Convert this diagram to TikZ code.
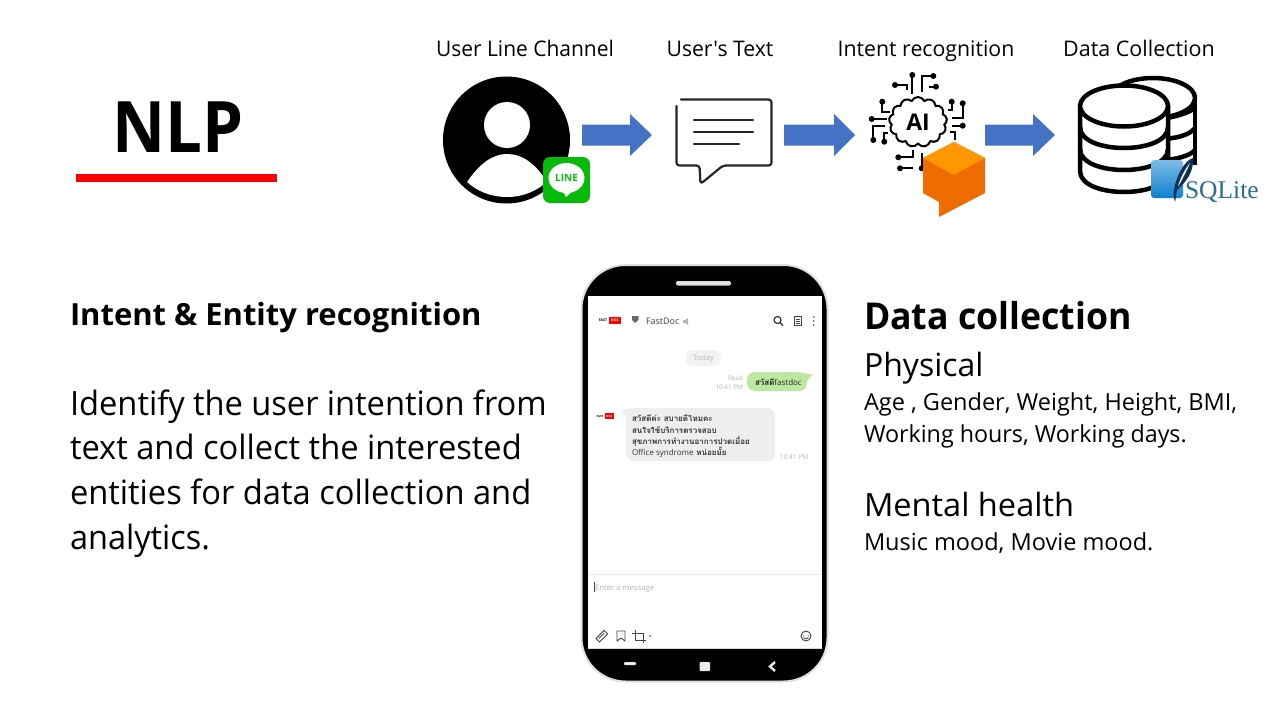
\documentclass[tikz,border=0pt]{standalone}
\usepackage{fontspec}
\setmainfont{Open Sans}
\newfontfamily\aposfont{Open Sans}
\newfontfamily\thaifont[Script=Thai]{Loma}
\newfontfamily\seriffont{Liberation Serif}
\usetikzlibrary{shapes.symbols}
\newcommand{\fsz}[1]{\fontsize{#1}{#1}\selectfont}
\newcommand{\xs}[2]{\scalebox{#1}[1]{#2}}
\definecolor{arrowblue}{HTML}{4472C4}
\definecolor{linegreen}{HTML}{06BA0A}
\definecolor{orangetop}{HTML}{FF9800}
\definecolor{orangeside}{HTML}{EF6C00}
\definecolor{chatgrey}{HTML}{EEEEEE}
\definecolor{chatgreen}{HTML}{BCE8A0}
\definecolor{faint}{HTML}{B5B5B5}
\definecolor{icon}{HTML}{444444}
\definecolor{sqltext}{HTML}{2B6E8C}
\definecolor{sqltop}{HTML}{7DBDE8}
\definecolor{sqlbot}{HTML}{0E7FCB}
\definecolor{feather}{HTML}{0B2F55}
\tikzset{
  txt/.style={anchor=base west,inner sep=0pt,outer sep=0pt,text=black},
  head/.style={anchor=base,inner sep=0pt,outer sep=0pt,text=black,font=\fsz{21.5}},
  blockarrow/.style={fill=arrowblue,draw=none},
  dbline/.style={draw=black,line width=4.5pt,fill=white,line join=round},
  dbarc/.style={draw=black,line width=4.5pt},
  msg/.style={draw=black!85,line width=2.2pt,line cap=round,line join=round},
  phoneicon/.style={draw=icon,line width=0.9pt,line join=round},
  trace/.style={line width=1.8pt},
  chattxt/.style={anchor=base west,inner sep=0pt,outer sep=0pt,text=black!80,font=\thaifont\bfseries\fsz{8}},
}
\newcommand{\barrow}[3]{\path[blockarrow] (#1,124.5) -- (#3,124.5) -- (#3,114) -- (#2,135) -- (#3,156) -- (#3,145.5) -- (#1,145.5) -- cycle;}
\begin{document}
\begin{tikzpicture}[x=1pt,y=-1pt]
\useasboundingbox (0,0) rectangle (1280,720);
\fill[white] (0,0) rectangle (1280,720);
% NLP
\node[txt,font=\fsz{71}\bfseries] (nlp) at (112,152) {\xs{0.92}{NLP}};
\fill[red] (76,174) rectangle (277,182);
% headers
\node[head] (h1) at (525,56) {\xs{0.975}{User Line Channel}};
\node[head] (h2) at (720,56) {\xs{0.985}{\aposfont User's Text}};
\node[head] (h3) at (926,56) {\xs{0.99}{Intent recognition}};
\node[head] (h4) at (1139,56) {Data Collection};
% person
\fill[black] (506.5,140) circle (63.5);
\fill[white] (507,125) circle (23);
\fill[white] (467,182) .. controls (480,163) and (493,154) .. (507,154) .. controls (522,154) and (535,163) .. (547,182) .. controls (535,192) and (522,197) .. (507,197) .. controls (492,197) and (478,192) .. (467,182) -- cycle;
% LINE
\fill[linegreen,rounded corners=7pt] (543,157) rectangle (590,203);
\fill[white] (566.5,178) ellipse (18 and 15);
\fill[white] (562,190) -- (566,197) -- (575,189) -- cycle;
\node[anchor=center,inner sep=0pt,text=linegreen,font=\fsz{10}\bfseries] (linelogo) at (566.5,178) {LINE};
% arrows
\barrow{582}{652}{630}
\barrow{784}{855}{834}
\barrow{985}{1055}{1033}
% message
\draw[msg,rounded corners=3pt] (681,99.5) -- (771.5,99.5) -- (771.5,165.5) -- (723,165.5) -- (700.5,184) -- (699.5,165.5) -- (676.5,165.5) -- (676.5,106);
\draw[msg] (694,120) -- (753,120);
\draw[msg] (694,132) -- (753,132);
\draw[msg] (694,144) -- (739,144);
% AI brain
\node[cloud,cloud puffs=13,cloud puff arc=130,aspect=1.15,draw=black,line width=2pt,minimum width=58pt,minimum height=50pt,inner sep=0pt,font=\fsz{23}\bfseries,fill=white] (brain) at (918,122) {AI};
\draw[trace] (912.3,94) -- (912.3,75);
\draw[trace] (921.7,92) -- (921.7,76) -- (933.3,76);
\draw[trace] (906.7,90) -- (906.7,85) -- (895,85);
\draw[trace] (930,88) -- (930,86.7) -- (936,86.7);
\draw[trace] (882.3,101.7) -- (882.3,111.7) -- (890,111.7);
\draw[trace] (871.7,119) -- (886.7,119);
\draw[trace] (873.3,140) -- (873.3,126) -- (885,126);
\draw[trace] (884.3,141.7) -- (884.3,132.7) -- (888.3,132.7);
\draw[trace] (951.7,101.7) -- (951.7,110) -- (948.3,110);
\draw[trace] (962.7,103.3) -- (962.7,118.3) -- (951.7,118.3);
\draw[trace] (962.7,125.7) -- (951.7,125.7);
\draw[trace] (950,131.7) -- (955,131.7) -- (955,140);
\draw[trace] (898.3,157.3) -- (913.3,157.3) -- (913.3,150);
\draw[trace] (900,168.3) -- (913.3,168.3);
\draw[trace] (921.7,153.3) -- (921.7,168.3);
\foreach \p in {(912.3,75),(933.3,76),(895,85),(936,86.7),(882.3,101.7),(871.7,119),(873.3,140),(884.3,141.7),(951.7,101.7),(962.7,103.3),(962.7,125.7),(898.3,157.3),(900,168.3),(921.7,168.3)}
  \fill \p circle (3);
% dialogflow
\fill[orangeside] (954,142) -- (985,158) -- (985,193) -- (939,217) -- (939,202) -- (923,193) -- (923,158) -- cycle;
\fill[orangetop] (954,142) -- (985,158) -- (954,175) -- (923,158) -- cycle;
% database back
\draw[dbline] (1153,98) ellipse (42 and 20);
\draw[dbarc] (1195,96) -- (1195,165);
\draw[dbarc] (1111,118) .. controls (1130,122) and (1175,122) .. (1195,108);
\draw[dbarc] (1160,139) .. controls (1175,139) and (1190,135) .. (1195,128);
\draw[dbarc] (1160,160) .. controls (1175,160) and (1190,156) .. (1195,150);
% database front
\path[dbline] (1080,106) -- (1080,171) .. controls (1080,199) and (1168,199) .. (1168,171) -- (1168,106) -- cycle;
\draw[dbline] (1124,106) ellipse (44 and 20.5);
\draw[dbarc] (1080,127) .. controls (1080,155) and (1168,155) .. (1168,127);
\draw[dbarc] (1080,149) .. controls (1080,177) and (1168,177) .. (1168,149);
% SQLite
\shade[top color=sqltop,bottom color=sqlbot,rounded corners=3pt] (1151,160) rectangle (1183,198);
\fill[feather] (1193,158) .. controls (1185,160) and (1176,176) .. (1174,190) .. controls (1173,195) and (1174,198) .. (1175,202) .. controls (1176,198) and (1176,194) .. (1177,190) .. controls (1186,182) and (1194,172) .. (1193,158) -- cycle;
\fill[white] (1190,163) .. controls (1186,168) and (1181,176) .. (1178,186) -- (1179,185) .. controls (1183,178) and (1187,170) .. (1190,163) -- cycle;
\node[txt,text=sqltext,font=\seriffont\fsz{25.5}] (sqlite) at (1185,198) {SQLite};
% left text
\node[txt,font=\fsz{30.5}\bfseries] (t1) at (70,325) {\xs{1.015}{Intent \& Entity recognition}};
\node[txt,font=\fsz{33.5}] (t2) at (70,415) {\xs{0.975}{\makebox[489pt][s]{Identify the user intention from}}};
\node[txt,font=\fsz{33.5}] (t3) at (70,459) {\xs{0.975}{text and collect the interested}};
\node[txt,font=\fsz{33.5}] (t4) at (70,504) {\xs{0.975}{entities for data collection and}};
\node[txt,font=\fsz{33.5}] (t5) at (70,549) {\xs{0.97}{analytics.}};
% right text
\node[txt,font=\fsz{37}\bfseries] (r1) at (864,329) {\xs{0.964}{Data collection}};
\node[txt,font=\fsz{32}] (r2) at (864,376) {Physical};
\node[txt,font=\fsz{23.5}] (r3) at (864,410) {Age , Gender, Weight, Height, BMI,};
\node[txt,font=\fsz{23.5}] (r4) at (864,442) {\xs{0.99}{Working hours, Working days.}};
\node[txt,font=\fsz{32}] (r5) at (864,516) {\xs{1.018}{Mental health}};
\node[txt,font=\fsz{23.5}] (r6) at (864,550) {Music mood, Movie mood.};
% phone
\draw[draw=black!12,line width=2pt,fill=black,rounded corners=44pt] (581.5,265) rectangle (827.5,681.5);
\fill[white] (588,296) rectangle (822,648);
\draw[black!15,line width=1pt] (588,648) -- (822,648);
\fill[white!88!black,rounded corners=2pt] (676,281) rectangle (731,285.5);
\draw[black!8,line width=0.6pt] (588,574) -- (822,574);
% phone header
\node[inner sep=0pt,font=\fsz{3.5}\bfseries] (fast1) at (603,320.5) {FAST};
\node[fill=red,inner sep=0pt,minimum width=12pt,minimum height=7pt,text=white,font=\fsz{3.5}\bfseries] (doc1) at (615,320.5) {DOC};
\fill[icon!80] (632,316) -- (638.5,316) -- (638.5,320) -- (635.2,323) -- (632,320) -- cycle;
\node[txt,font=\fsz{9},text=icon] (fd) at (646,324.5) {FastDoc};
\fill[faint] (683,320) rectangle (685,323) (685,323) -- (688,325) -- (688,318) -- (685,320) -- cycle;
\draw[draw=black!85,line width=1.1pt] (777.5,320) circle (3.5) (780,322.5) -- (783,325.5);
\draw[phoneicon] (794,316.5) rectangle (801.5,325.5) (795.8,319.5) -- (799.7,319.5) (795.8,321.5) -- (799.7,321.5) (795.8,323.5) -- (799.7,323.5);
\fill[icon] (813.7,317) circle (0.9) (813.7,321) circle (0.9) (813.7,325) circle (0.9);
% chat
\fill[chatgrey!70,rounded corners=7pt] (686,350) rectangle (721,366);
\node[inner sep=0pt,text=faint,font=\fsz{7.5}] (today) at (703.5,358.5) {Today};
\node[anchor=base east,inner sep=0pt,text=faint,font=\fsz{6.3}] (read) at (743,380) {Read};
\node[anchor=base east,inner sep=0pt,text=faint,font=\fsz{6.3}] (time1) at (743,389.5) {10:41 PM};
\fill[chatgreen,rounded corners=8pt] (747,372) rectangle (807,391);
\fill[chatgreen] (800,373) -- (813,374) -- (804,384) -- cycle;
\node[txt,text=black!85,font=\fsz{8}] (hello) at (755,385) {{\thaifont\bfseries สวัสดี}fastdoc};
\node[inner sep=0pt,font=\fsz{2.8}\bfseries] (fast2) at (600,416) {FAST};
\node[fill=red,inner sep=0pt,minimum width=9pt,minimum height=6.5pt,text=white,font=\fsz{2.8}\bfseries] (doc2) at (609.5,416) {DOC};
\fill[chatgrey,rounded corners=8pt] (626,408) rectangle (775,461);
\fill[chatgrey] (621,410) -- (632,408) -- (627,418) -- cycle;
\node[chattxt] (m1) at (632,421.5) {สวัสดีค่ะ สบายดีไหมคะ};
\node[chattxt] (m2) at (632,433) {สนใจใช้บริการตรวจสอบ};
\node[chattxt] (m3) at (632,444.5) {สุขภาพการทำงานอาการปวดเมื่อย};
\node[chattxt] (m4) at (632,455.5) {{\rmfamily\mdseries\fsz{8}Office syndrome} หน่อยมั้ย};
\node[inner sep=0pt,text=faint,font=\fsz{6.6}] (time2) at (794,457) {10:41 PM};
% input
\draw[icon,line width=0.8pt] (594.5,582) -- (594.5,592);
\node[txt,text=faint,font=\fsz{7.7}] (enter) at (595,590) {Enter a message};
% tool icons
\draw[phoneicon,rotate around={-45:(602,636)}] (599.5,630.5) rectangle (604.5,642) (601.5,632.5) -- (601.5,640);
\draw[phoneicon] (617,631) -- (625,631) -- (625,641) -- (621,638) -- (617,641) -- cycle;
\draw[phoneicon] (635,630) -- (635,640) -- (646,640) (632,633) -- (643,633) -- (643,643);
\fill[icon] (650,636) circle (0.8);
\draw[phoneicon] (806,636) circle (5) (803.5,635) -- (803.5,635.6) (808.5,635) -- (808.5,635.6) (803.5,637.5) .. controls (805,639.5) and (807,639.5) .. (808.5,637.5);
% nav
\fill[white!92!black,rounded corners=1pt] (624,662) rectangle (636,665);
\fill[white!92!black,rounded corners=1pt] (699.5,662) rectangle (710,671);
\draw[white!92!black,line width=2.4pt] (775,662) -- (770,666.5) -- (775,671);
\end{tikzpicture}
\end{document}
